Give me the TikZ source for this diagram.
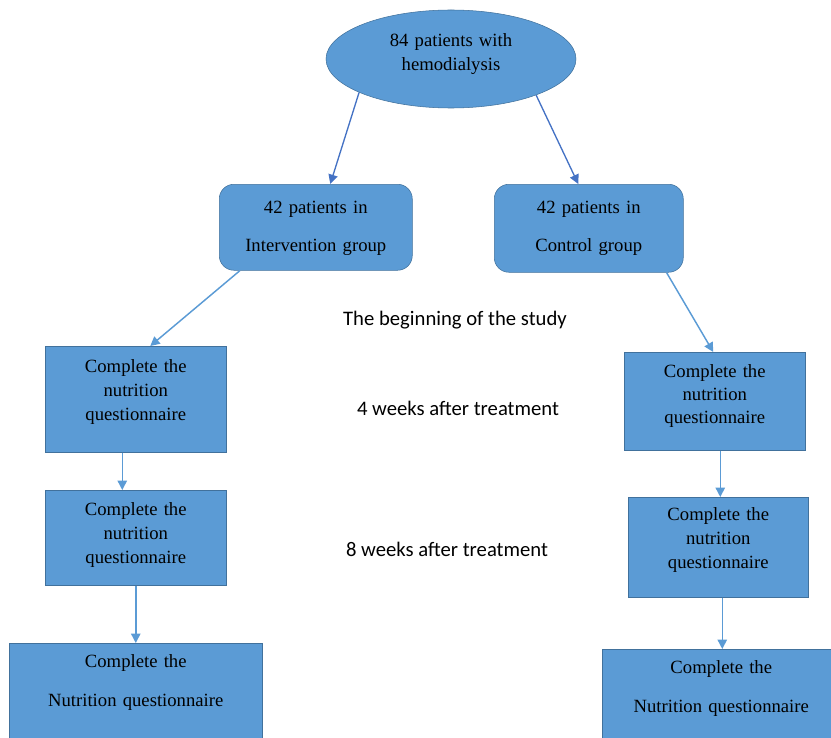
\documentclass[tikz,border=0pt]{standalone}
\usepackage{fontspec}
\setmainfont{Liberation Serif}
\newfontfamily\labelfont{Carlito}
\usetikzlibrary{shapes.geometric, arrows.meta, calc}
\definecolor{boxblue}{HTML}{5B9BD5}
\definecolor{boxline}{HTML}{41719C}
\definecolor{darkarrow}{HTML}{4472C4}
\tikzset{
x=0.75pt, y=-0.75pt, % one unit is one pixel of the original figure
box/.style={draw=boxline, fill=boxblue, inner sep=0pt, anchor=north west, align=center, font=\fontsize{14}{#1}\selectfont}, % blue boxes, #1 is the line spacing
group/.style={box=28.5pt, rounded corners=11pt}, % the two group boxes
top/.style={ellipse, draw=boxline, fill=boxblue, inner sep=0pt, minimum width=187.5pt, minimum height=73.5pt, align=center, font=\fontsize{14}{18}\selectfont}, % the ellipse on top
timelabel/.style={font=\labelfont\fontsize{15.5}{18}\selectfont}, % texts in the middle
arr/.style={-{Triangle[width=7pt,length=7pt]}, draw=boxblue, line width=1.1pt}, % arrows
darr/.style={arr, draw=darkarrow, line width=1pt}, % arrows out of the ellipse
}
\begin{document}
\begin{tikzpicture}
        \clip (0,0) rectangle (831,738);
        \node[top, text width=120pt, text height=10pt, text depth=28pt] (patients) at (451,59) {84 patients with\\hemodialysis};

        \node[group, text width=144.75pt, text height=21.75pt, text depth=42.75pt] (intv) at (219,184) {42 patients in\\Intervention group};
        \node[group, text width=141.75pt, text height=21.75pt, text depth=44.25pt] (ctrl) at (494,184) {42 patients in\\Control group};

        % intervention side
        \node[box=18pt, text width=135.75pt, text height=19.5pt, text depth=60pt] (l1) at (45,346) {Complete the\\nutrition\\questionnaire};
        \node[box=18pt, text width=135.75pt, text height=18.75pt, text depth=52.5pt] (l2) at (45,490) {Complete the\\nutrition\\questionnaire};
        \node[box=29.25pt, text width=189.75pt, text height=18pt, text depth=70pt] (l3) at (9,643) {Complete the\\Nutrition questionnaire};

        % control side
        \node[box=17.25pt, text width=135.75pt, text height=18.75pt, text depth=54.75pt] (r1) at (624,352) {Complete the\\nutrition\\questionnaire};
        \node[box=18pt, text width=135pt, text height=17.25pt, text depth=57.75pt] (r2) at (628,497) {Complete the\\nutrition\\questionnaire};
        \node[box=29.25pt, text width=178.5pt, text height=18pt, text depth=70pt] (r3) at (602,649) {Complete the\\Nutrition questionnaire};

        % time points
        \node[timelabel] (start) at (455,320) {The beginning of the study};
        \node[timelabel] (week4) at (458,408) {4 weeks after treatment};
        \node[timelabel] (week8) at (447,549) {8 weeks after treatment};

        \draw[darr] (patients.200) -- ($(intv.north)+(14.5,0)$);
        \draw[darr] (patients.337) -- ($(ctrl.north)+(-10.5,0)$);
        \draw[arr] ($(intv.south west)+(21,0)$) -- ($(l1.north)+(14.5,0)$);
        \draw[arr] ($(ctrl.south east)+(-17,0)$) -- ($(r1.north)+(-1.5,0)$);
        \draw[arr] ($(l1.south)+(-13.5,0)$) -- ($(l2.north)+(-13.5,0)$);
        \draw[arr] (l2.south) -- (l3.north);
        \draw[arr] ($(r1.south)+(5.5,0)$) -- ($(r2.north)+(2,0)$);
        \draw[arr] ($(r2.south)+(4,0)$) -- ($(r3.north)+(1,0)$);
\end{tikzpicture}
\end{document}
